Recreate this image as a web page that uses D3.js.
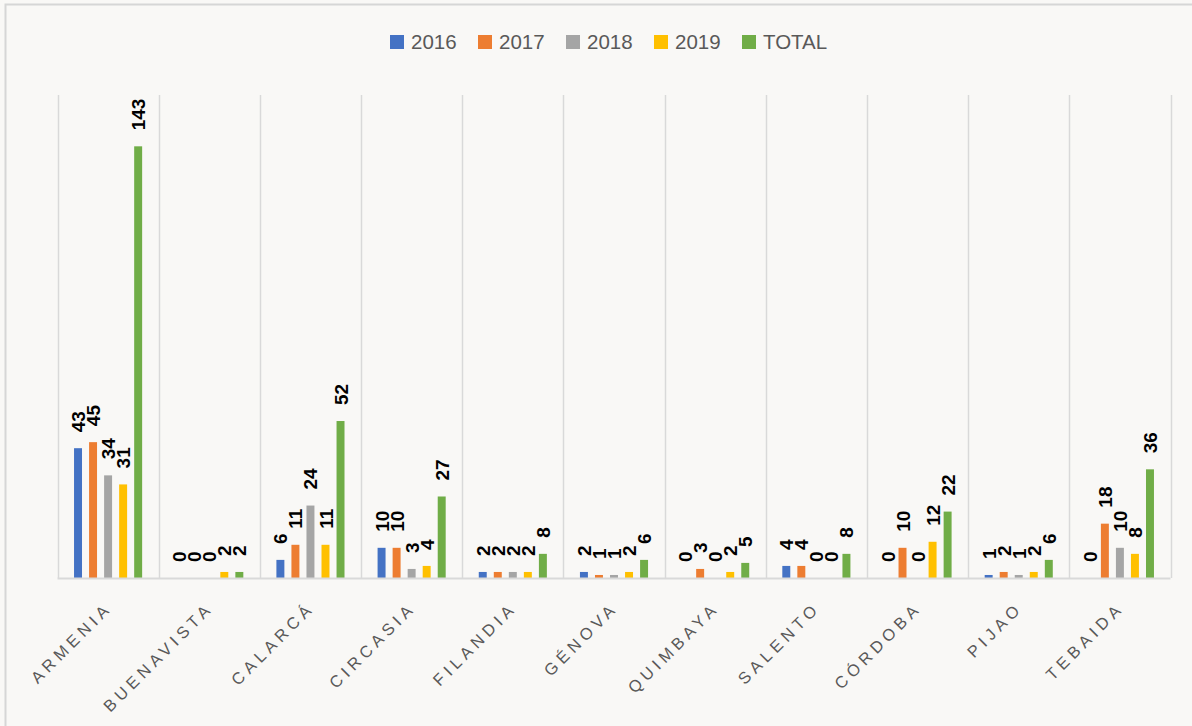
<!DOCTYPE html>
<html>
<head>
<meta charset="utf-8">
<script src="https://cdn.jsdelivr.net/npm/d3@7"></script>
<style>
    html, body { margin: 0; padding: 0; background: #f9f8f6; }
    #chart { width: 1192px; height: 726px; }
    text { font-family: "Liberation Sans", Arial, sans-serif; }
</style>
</head>
<body>
<div id="chart"></div>
<script>
// Data
const municipios = ['ARMENIA', 'BUENAVISTA', 'CALARCÁ', 'CIRCASIA', 'FILANDIA', 'GÉNOVA',
    'QUIMBAYA', 'SALENTO', 'CÓRDOBA', 'PIJAO', 'TEBAIDA'];
const seriesNames = ['2016', '2017', '2018', '2019', 'TOTAL'];
const v2016  = [43, 0, 6, 10, 2, 2, 0, 4, 0, 1, 0];
const v2017  = [45, 0, 11, 10, 2, 1, 3, 4, 10, 2, 18];
const v2018  = [34, 0, 24, 3, 2, 1, 0, 0, 0, 1, 10];
const v2019  = [31, 2, 11, 4, 2, 2, 2, 0, 12, 2, 8];
const vTotal = [143, 2, 52, 27, 8, 6, 5, 8, 22, 6, 36];
const seriesColors = ['#4472c4', '#ed7d31', '#a5a5a5', '#ffc000', '#70ad47'];

const W = 1192, H = 726;
const plot = { left: 57.5, right: 1170.5, top: 95, bottom: 578 };

const svg = d3.select('#chart').append('svg')
    .attr('width', W)
    .attr('height', H);

// chart frame
svg.append('rect')
    .attr('x', 5.5).attr('y', 4.5)
    .attr('width', W).attr('height', H)
    .attr('fill', '#f9f8f6')
    .attr('stroke', '#d6d6d6')
    .attr('stroke-width', 2);

const x0 = d3.scaleBand()
    .domain(municipios)
    .range([plot.left, plot.right])
    .paddingInner(0).paddingOuter(0);

const x1 = d3.scaleBand()
    .domain(seriesNames)
    .range([0, x0.bandwidth()])
    .paddingInner(0.47)
    .paddingOuter(1.1);

const y = d3.scaleLinear()
    .domain([0, 160])
    .range([plot.bottom, plot.top]);

const color = d3.scaleOrdinal().domain(seriesNames).range(seriesColors);

// vertical separators between categories
const bounds = municipios.map(m => x0(m)).concat([plot.right]);
svg.append('g').selectAll('line')
    .data(bounds)
    .join('line')
    .attr('x1', d => Math.round(d) + 0.5)
    .attr('x2', d => Math.round(d) + 0.5)
    .attr('y1', plot.top)
    .attr('y2', plot.bottom)
    .attr('stroke', '#d9d9d9')
    .attr('stroke-width', 1.5);

// bars + rotated labels
const rows = municipios.map((m, i) => ({
    name: m,
    values: [v2016[i], v2017[i], v2018[i], v2019[i], vTotal[i]]
}));

const groups = svg.append('g').selectAll('g')
    .data(rows)
    .join('g')
    .attr('transform', d => `translate(${x0(d.name)},0)`);

groups.selectAll('rect')
    .data(d => d.values.map((v, k) => ({ key: seriesNames[k], v })))
    .join('rect')
    .attr('x', d => x1(d.key))
    .attr('y', d => y(d.v))
    .attr('width', x1.bandwidth())
    .attr('height', d => y(0) - y(d.v))
    .attr('fill', d => color(d.key));

groups.selectAll('text')
    .data(d => d.values.map((v, k) => ({ key: seriesNames[k], v })))
    .join('text')
    .attr('transform', d => `translate(${x1(d.key) + x1.bandwidth() / 2},${y(d.v) - 16}) rotate(-90)`)
    .attr('text-anchor', 'start')
    .attr('dy', '0.37em')
    .attr('font-size', 19)
    .attr('font-weight', 'bold')
    .attr('fill', '#000')
    .text(d => d.v);

// baseline
svg.append('line')
    .attr('x1', plot.left).attr('x2', plot.right)
    .attr('y1', plot.bottom + 0.5).attr('y2', plot.bottom + 0.5)
    .attr('stroke', '#d9d9d9')
    .attr('stroke-width', 2);

// category labels, 45° with wide letter spacing
svg.append('g').selectAll('text')
    .data(municipios)
    .join('text')
    .attr('transform', d => `translate(${x0(d) + x0.bandwidth() / 2 + 5},${609}) rotate(-45)`)
    .attr('text-anchor', 'end')
    .attr('font-size', 16.5)
    .attr('letter-spacing', 4.5)
    .attr('fill', '#595959')
    .text(d => d);

// legend
const legend = svg.append('g')
    .attr('transform', 'translate(390,35)');

const item = legend.selectAll('g')
    .data(seriesNames)
    .join('g')
    .attr('transform', (d, i) => `translate(${i * 88},0)`);

item.append('rect')
    .attr('width', 14).attr('height', 14)
    .attr('fill', d => color(d));

item.append('text')
    .attr('x', 21)
    .attr('y', 7)
    .attr('dy', '0.36em')
    .attr('font-size', 20.5)
    .attr('fill', '#595959')
    .text(d => d);
</script>
</body>
</html>
